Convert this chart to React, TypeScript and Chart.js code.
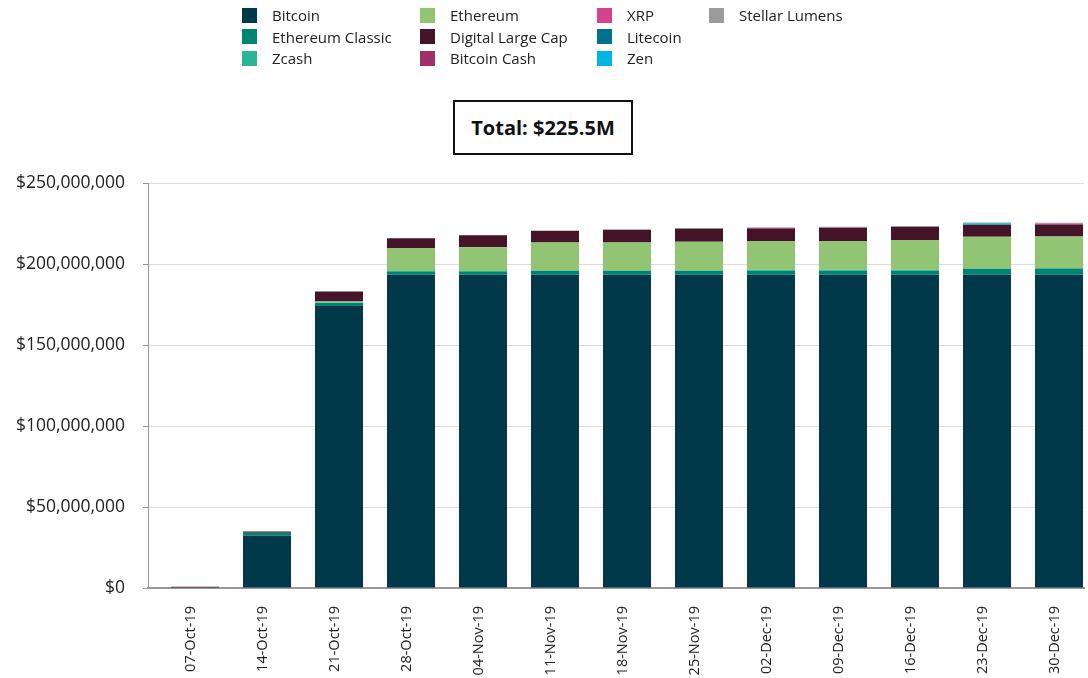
import React, { useEffect, useRef } from "react";
import { Chart, registerables } from "chart.js";

Chart.register(...registerables);

const weeks = [
  "07-Oct-19", "14-Oct-19", "21-Oct-19", "28-Oct-19", "04-Nov-19", "11-Nov-19", "18-Nov-19",
  "25-Nov-19", "02-Dec-19", "09-Dec-19", "16-Dec-19", "23-Dec-19", "30-Dec-19",
];

// values in millions of USD
const bitcoin = [0, 32.3, 174.0, 193.3, 193.3, 193.3, 193.3, 193.3, 193.3, 193.3, 193.3, 193.3, 193.3];
const ethereumClassic = [0, 1.8, 2.0, 1.8, 1.8, 2.5, 2.5, 2.5, 2.5, 2.5, 2.5, 3.7, 3.7];
const zcash = [0, 0, 0.3, 0.6, 0.6, 0.2, 0.2, 0.2, 0.6, 0.6, 0.6, 0.2, 0.6];
const ethereum = [0, 0, 0.6, 14.1, 14.7, 17.2, 17.2, 17.8, 17.8, 17.8, 18.4, 19.6, 19.4];
const digitalLargeCap = [0.8, 0.7, 6.2, 6.1, 7.4, 7.4, 8.0, 8.0, 7.5, 8.2, 8.0, 7.4, 7.4];
const bitcoinCash = [0, 0, 0, 0, 0, 0, 0, 0, 0.6, 0, 0, 0, 0];
const xrp = [0, 0, 0, 0, 0, 0, 0, 0, 0, 0, 0, 0, 0.6];
const litecoin = [0, 0, 0, 0, 0, 0, 0, 0, 0, 0, 0, 0, 0];
const zen = [0, 0, 0, 0, 0, 0, 0, 0, 0, 0, 0, 1.0, 0];
const stellarLumens = [0, 0, 0, 0, 0, 0, 0.1, 0.4, 0.3, 0.6, 0.6, 0.4, 0.4];

const yTicks = [0, 50, 100, 150, 200, 250];
const totalLabel = "Total: $225.5M";

const series = [
  { label: "Bitcoin", data: bitcoin, color: "#01384a" },
  { label: "Ethereum Classic", data: ethereumClassic, color: "#008570" },
  { label: "Zcash", data: zcash, color: "#2bb594" },
  { label: "Ethereum", data: ethereum, color: "#91c574" },
  { label: "Digital Large Cap", data: digitalLargeCap, color: "#461428" },
  { label: "Bitcoin Cash", data: bitcoinCash, color: "#a0306a" },
  { label: "XRP", data: xrp, color: "#d6438d" },
  { label: "Litecoin", data: litecoin, color: "#00728f" },
  { label: "Zen", data: zen, color: "#00b5e2" },
  { label: "Stellar Lumens", data: stellarLumens, color: "#9b9b9e" },
];

const legendColumns = [
  ["Bitcoin", "Ethereum Classic", "Zcash"],
  ["Ethereum", "Digital Large Cap", "Bitcoin Cash"],
  ["XRP", "Litecoin", "Zen"],
  ["Stellar Lumens"],
];
const legendColX = [242, 420, 597, 709];

const FONT = "'Open Sans', 'DejaVu Sans', sans-serif";

// bar placement: an empty leading stack shifts the visible stack to the right of the tick
const CAT_PCT = 0.6111;
const BAR_PCT = 2.1818;

export default function App() {
  const canvasRef = useRef<HTMLCanvasElement | null>(null);

  useEffect(() => {
    const canvas = canvasRef.current;
    if (!canvas) return;
    const ghost = {
      label: "ghost",
      data: weeks.map(() => null),
      backgroundColor: "rgba(0,0,0,0)",
      borderWidth: 0,
      barPercentage: BAR_PCT,
      categoryPercentage: CAT_PCT,
      stack: "ghost",
    };
    const chart = new Chart(canvas, {
      type: "bar",
      data: {
        labels: weeks,
        datasets: [
          ghost as any,
          ...series.map((s) => ({
            label: s.label,
            data: s.data,
            backgroundColor: s.color,
            borderWidth: 0,
            barPercentage: BAR_PCT,
            categoryPercentage: CAT_PCT,
            stack: "all",
          })),
        ],
      },
      options: {
        animation: false,
        responsive: false,
        maintainAspectRatio: false,
        layout: { padding: { top: 183, right: 4, bottom: 0, left: 0 } },
        plugins: {
          legend: { display: false },
          tooltip: { enabled: false },
          title: { display: false },
        },
        scales: {
          x: {
            stacked: true,
            grid: { display: false, drawTicks: false },
            border: { display: true, color: "#999999", width: 2 },
            ticks: {
              color: "#222222",
              font: { family: FONT, size: 14.5 },
              minRotation: 90,
              maxRotation: 90,
              padding: 18,
              labelOffset: 7,
              autoSkip: false,
            },
            afterFit: (scale: any) => {
              scale.height = 90;
            },
          },
          y: {
            stacked: true,
            min: 0,
            max: 250,
            afterBuildTicks: (scale: any) => {
              scale.ticks = yTicks.map((v) => ({ value: v }));
            },
            grid: { color: "#dddddd", lineWidth: 1, tickLength: 5, tickColor: "#999999" },
            border: { display: true, color: "#999999", width: 1 },
            ticks: {
              color: "#222222",
              font: { family: FONT, size: 17.5 },
              padding: 18,
              callback: (v: any) => "$" + (Number(v) * 1e6).toLocaleString("en-US"),
            },
            afterFit: (scale: any) => {
              scale.width = 148;
            },
          },
        },
      },
    });
    return () => chart.destroy();
  }, []);

  return (
    <div
      style={{
        position: "absolute",
        left: 0,
        top: 0,
        width: 1088,
        height: 678,
        background: "#ffffff",
        fontFamily: FONT,
        overflow: "hidden",
      }}
    >
      <canvas
        ref={canvasRef}
        width={1088}
        height={678}
        style={{ position: "absolute", left: 0, top: 0, width: 1088, height: 678 }}
      />
      {legendColumns.map((col, ci) =>
        col.map((name, ri) => {
          const s = series.find((x) => x.label === name)!;
          return (
            <div
              key={name}
              style={{
                position: "absolute",
                left: legendColX[ci],
                top: 4 + ri * 21.5,
                height: 22,
                display: "flex",
                alignItems: "center",
                fontSize: 15,
                color: "#222222",
                whiteSpace: "nowrap",
              }}
            >
              <span
                style={{
                  display: "inline-block",
                  width: 15,
                  height: 15,
                  background: s.color,
                  marginRight: 15,
                }}
              />
              <span>{name}</span>
            </div>
          );
        })
      )}
      <div
        style={{
          position: "absolute",
          left: 453,
          top: 100,
          width: 180,
          height: 55,
          boxSizing: "border-box",
          border: "2px solid #111111",
          display: "flex",
          alignItems: "center",
          justifyContent: "center",
          fontWeight: 700,
          fontSize: 20,
          color: "#111111",
          background: "#ffffff",
        }}
      >
        {totalLabel}
      </div>
    </div>
  );
}
